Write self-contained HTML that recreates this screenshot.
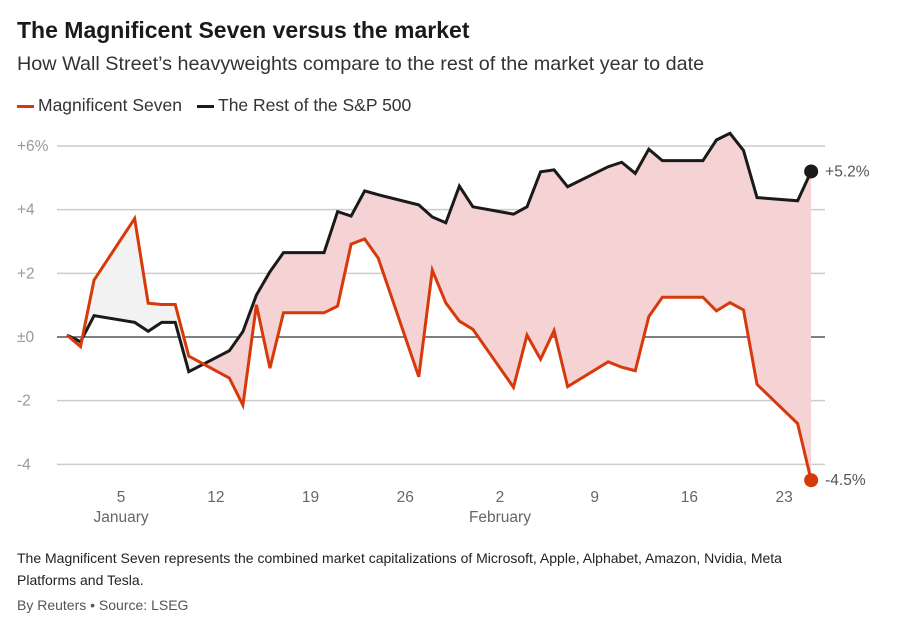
<!DOCTYPE html>
<html><head><meta charset="utf-8"><style>
body{margin:0;background:#fff;font-family:"Liberation Sans",sans-serif;}
#wrap{position:relative;width:900px;height:625px;overflow:hidden;}
.t{position:absolute;white-space:nowrap;color:#222;}
</style></head><body>
<div id="wrap">
<div class="t" style="left:17px;top:17px;font-size:23px;font-weight:bold;color:#1a1a1a;">The Magnificent Seven versus the market</div>
<div class="t" style="left:17px;top:53px;font-size:19.8px;color:#333;">How Wall Street’s heavyweights compare to the rest of the market year to date</div>
<div class="t" style="left:17px;top:95px;font-size:17.5px;color:#333;"><span style="display:inline-block;width:17px;height:3px;background:#d63a0b;vertical-align:middle;margin-right:4px;"></span>Magnificent Seven</div>
<div class="t" style="left:197px;top:95px;font-size:17.5px;color:#333;"><span style="display:inline-block;width:17px;height:3px;background:#1a1a1a;vertical-align:middle;margin-right:4px;"></span>The Rest of the S&amp;P 500</div>
<svg id="chart" width="900" height="540" style="position:absolute;left:0;top:0;"></svg>
<div class="t" style="left:17px;top:547px;font-size:14px;line-height:22px;color:#222;">The Magnificent Seven represents the combined market capitalizations of Microsoft, Apple, Alphabet, Amazon, Nvidia, Meta<br>Platforms and Tesla.</div>
<div class="t" style="left:17px;top:597px;font-size:14px;color:#555;">By Reuters • Source: LSEG</div>
</div>
<script>
const days=[0,1,2,5,6,7,8,9,12,13,14,15,16,19,20,21,22,23,26,27,28,29,30,33,34,35,36,37,40,41,42,43,44,47,48,49,50,51,54,55];
const rest=[0.06,-0.15,0.67,0.46,0.18,0.46,0.46,-1.09,-0.43,0.17,1.32,2.05,2.65,2.65,3.94,3.80,4.59,4.47,4.15,3.77,3.59,4.74,4.09,3.86,4.09,5.19,5.25,4.72,5.35,5.49,5.14,5.90,5.54,5.54,6.19,6.40,5.86,4.38,4.28,5.2];
const mag7=[0.06,-0.30,1.79,3.72,1.06,1.02,1.02,-0.60,-1.29,-2.14,1.01,-0.98,0.76,0.76,0.97,2.92,3.08,2.48,-1.25,2.10,1.07,0.50,0.24,-1.58,0.06,-0.70,0.20,-1.56,-0.78,-0.95,-1.06,0.64,1.25,1.25,0.82,1.08,0.85,-1.49,-2.72,-4.5];
const yTicks=[6,4,2,0,-2,-4];
const yLabels=["+6%","+4","+2","±0","-2","-4"];
const xTickDays=[4,11,18,25,32,39,46,53];
const xTickLabels=["5","12","19","26","2","9","16","23"];
const months=[{d:4,l:"January"},{d:32,l:"February"}];
const lastLabels=["+5.2%","-4.5%"];

const NS="http://www.w3.org/2000/svg";
const svg=document.getElementById('chart');
const X=d=>67+d*13.53;
const Y=v=>337-v*31.83;
function mk(tag,attrs,parent){const e=document.createElementNS(NS,tag);for(const k in attrs)e.setAttribute(k,attrs[k]);(parent||svg).appendChild(e);return e;}
yTicks.forEach((v,i)=>{
  const g=mk('line',{x1:57,x2:825,y1:Y(v),y2:Y(v),stroke:v===0?'#333':'#ccc','stroke-width':v===0?1.3:1.5});
  
  
  const t=mk('text',{x:17,y:Y(v)+5,'font-size':15.5,fill:'#999','font-family':'Liberation Sans, sans-serif'});
  t.textContent=yLabels[i];
  
  
});
xTickDays.forEach((d,i)=>{
  const t=mk('text',{x:X(d),y:502,'font-size':15.5,fill:'#666','text-anchor':'middle','font-family':'Liberation Sans, sans-serif'});
  t.textContent=xTickLabels[i];
  
  
});
months.forEach(m=>{
  const t=mk('text',{x:X(m.d),y:522,'font-size':15.5,fill:'#666','text-anchor':'middle','font-family':'Liberation Sans, sans-serif'});
  t.textContent=m.l;
  
  
});
const ptsR=days.map((d,i)=>X(d)+','+Y(rest[i]));
const ptsM=days.map((d,i)=>X(d)+','+Y(mag7[i]));
const between=ptsR.concat(ptsM.slice().reverse()).join(' ');
const defs=mk('defs',{});
const cpB=mk('clipPath',{id:'below'},defs);
mk('polygon',{points:ptsR.join(' ')+' '+X(days[days.length-1])+',540 '+X(0)+',540'},cpB);
const cpA=mk('clipPath',{id:'above'},defs);
mk('polygon',{points:ptsR.join(' ')+' '+X(days[days.length-1])+',0 '+X(0)+',0'},cpA);
const f1=mk('polygon',{points:between,fill:'#f5d2d4','clip-path':'url(#below)'});


const f2=mk('polygon',{points:between,fill:'#f2f2f2','clip-path':'url(#above)'});


const lr=mk('polyline',{points:ptsR.join(' '),fill:'none',stroke:'#1a1a1a','stroke-width':3,'stroke-linejoin':'miter'});


const lm=mk('polyline',{points:ptsM.join(' '),fill:'none',stroke:'#d63a0b','stroke-width':3,'stroke-linejoin':'miter'});


const n=days.length-1;
[[rest,'#1a1a1a',lastLabels[0],'rest-end'],[mag7,'#d63a0b',lastLabels[1],'mag7-end']].forEach(s=>{
  const c=mk('circle',{cx:X(days[n]),cy:Y(s[0][n]),r:7,fill:s[1]});
  
  
  const t=mk('text',{x:X(days[n])+14,y:Y(s[0][n])+5,'font-size':15.5,fill:'#555','font-family':'Liberation Sans, sans-serif'});
  t.textContent=s[2];
  
  
});
</script>
</body></html>
